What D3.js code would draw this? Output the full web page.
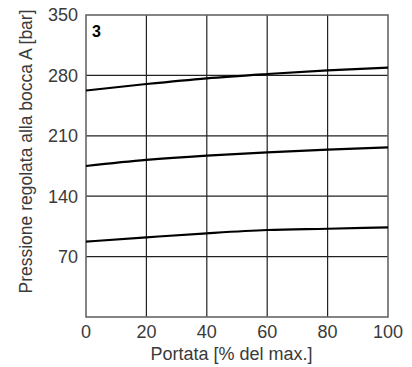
<!DOCTYPE html>
<html><head><meta charset="utf-8">
<script src="https://cdn.jsdelivr.net/npm/d3@7"></script>
<style>body{margin:0;background:#fff}svg{display:block}</style>
</head><body>
<script>
const xValues = [0, 20, 40, 60, 80, 100];
const curveTop = [262.5, 270, 276.6, 281.6, 285.9, 289];
const curveMid = [175, 182, 187, 190.8, 193.9, 196.6];
const curveLow = [87.3, 92.3, 97, 100.8, 102.3, 103.9];
const xTicks = [0, 20, 40, 60, 80, 100];
const yTicks = [70, 140, 210, 280, 350];
const panelLabel = "3";
const xTitle = "Portata [% del max.]";
const yTitle = "Pressione regolata alla bocca A [bar]";

const W = 412, H = 367;
const m = {l: 86, r: 412 - 388, t: 15, b: 367 - 317};
const svg = d3.select("body").append("svg").attr("width", W).attr("height", H);
const x = d3.scaleLinear().domain([0, 100]).range([m.l, W - m.r]);
const y = d3.scaleLinear().domain([0, 350]).range([H - m.b, m.t]);
const font = "'Liberation Sans', Arial, sans-serif";
const txt = "#3a3a3a";

// gridlines
svg.append("g").selectAll("line").data(xTicks.filter(d => d > 0 && d < 100)).join("line")
  .attr("x1", d => x(d)).attr("x2", d => x(d)).attr("y1", y(0)).attr("y2", y(350))
  .attr("stroke", "#222").attr("stroke-width", 1.2);
svg.append("g").selectAll("line").data(yTicks.filter(d => d < 350)).join("line")
  .attr("x1", x(0)).attr("x2", x(100)).attr("y1", d => y(d)).attr("y2", d => y(d))
  .attr("stroke", "#222").attr("stroke-width", 1.2);
// frame
svg.append("rect").attr("x", x(0)).attr("y", y(350)).attr("width", x(100) - x(0)).attr("height", y(0) - y(350))
  .attr("fill", "none").attr("stroke", "#666").attr("stroke-width", 1.6);

// curves
const line = d3.line().x((d, i) => x(xValues[i])).y(d => y(d)).curve(d3.curveMonotoneX);
[curveTop, curveMid, curveLow].forEach(c => {
  svg.append("path").attr("d", line(c)).attr("fill", "none").attr("stroke", "#000").attr("stroke-width", 2.2);
});

// y tick labels
svg.append("g").selectAll("text").data(yTicks).join("text")
  .attr("x", x(0) - 8).attr("y", d => y(d)).attr("dy", "0.35em").attr("text-anchor", "end")
  .attr("font-family", font).attr("font-size", 18).attr("fill", txt).text(d => d);
// x tick labels
svg.append("g").selectAll("text").data(xTicks).join("text")
  .attr("x", d => x(d)).attr("y", y(0) + 21).attr("text-anchor", "middle")
  .attr("font-family", font).attr("font-size", 18).attr("fill", txt).text(d => d);

svg.append("text").attr("x", 231.5).attr("y", 360).attr("text-anchor", "middle")
  .attr("font-family", font).attr("font-size", 18).attr("fill", txt).text(xTitle);
svg.append("text").attr("transform", `translate(32,151.5) rotate(-90)`).attr("text-anchor", "middle")
  .attr("font-family", font).attr("font-size", 17.5).attr("fill", txt).text(yTitle);
svg.append("text").attr("x", 92).attr("y", 36.5)
  .attr("font-family", font).attr("font-size", 16).attr("font-weight", "bold").attr("fill", "#000").text(panelLabel);
</script>
</body></html>
